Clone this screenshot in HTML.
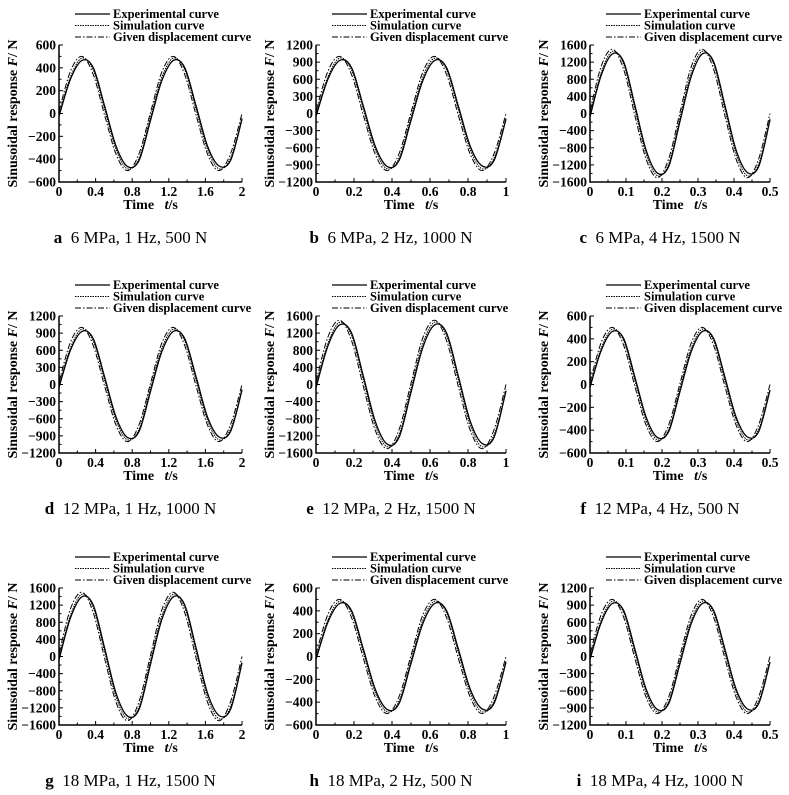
<!DOCTYPE html>
<html><head><meta charset="utf-8">
<style>
html,body{margin:0;padding:0;background:#fff;}
svg{display:block;font-family:"Liberation Serif",serif;}
.tk{font-size:13.5px;font-weight:bold;}
.yt{font-size:14px;font-weight:bold;}
.lg{font-size:12.5px;font-weight:bold;}
</style></head>
<body>
<svg id="fig" width="789" height="795" viewBox="0 0 789 795"></svg>
<script>
// Panel metadata
const panelLetters = ["a","b","c","d","e","f","g","h","i"];
const panelCaptions = ["6 MPa, 1 Hz, 500 N","6 MPa, 2 Hz, 1000 N","6 MPa, 4 Hz, 1500 N","12 MPa, 1 Hz, 1000 N","12 MPa, 2 Hz, 1500 N","12 MPa, 4 Hz, 500 N","18 MPa, 1 Hz, 1500 N","18 MPa, 2 Hz, 500 N","18 MPa, 4 Hz, 1000 N"];
const panelFreq = [1,2,4,1,2,4,1,2,4];
const panelAmp = [500,1000,1500,1000,1500,500,1500,500,1000];
const panelYMax = [600,1200,1600,1200,1600,600,1600,600,1200];
const panelYStep = [200,300,400,300,400,200,400,200,300];
const panelXTicks = [
 ["0","0.4","0.8","1.2","1.6","2"],["0","0.2","0.4","0.6","0.8","1"],["0","0.1","0.2","0.3","0.4","0.5"],
 ["0","0.4","0.8","1.2","1.6","2"],["0","0.2","0.4","0.6","0.8","1"],["0","0.1","0.2","0.3","0.4","0.5"],
 ["0","0.4","0.8","1.2","1.6","2"],["0","0.2","0.4","0.6","0.8","1"],["0","0.1","0.2","0.3","0.4","0.5"]];
// Series shapes (fraction of amplitude) sampled every 1/8 period over two periods
const expShape = [-0.05,0.6,0.93,0.8,0.12,-0.58,-0.93,-0.82,-0.12,0.58,0.93,0.8,0.12,-0.58,-0.92,-0.82,-0.1];
const simShape = [-0.02,0.64,0.97,0.76,0.06,-0.64,-0.97,-0.78,-0.06,0.64,0.97,0.76,0.06,-0.64,-0.97,-0.78,-0.08];
const givenShape = [0.04,0.74,1.0,0.68,-0.04,-0.72,-1.0,-0.7,0.02,0.73,1.0,0.68,-0.04,-0.72,-1.0,-0.7,0.0];

// layout
const colL=[59,316,590], colW=[183,190,180];
const rowT=[45,316,588], rowH=137;
const NS="http://www.w3.org/2000/svg";
const svg=document.getElementById('fig');
function mk(tag,attrs,parent){const e=document.createElementNS(NS,tag);for(const k in attrs)e.setAttribute(k,attrs[k]);(parent||svg).appendChild(e);return e;}
function smooth(pts){let d=`M${pts[0][0]},${pts[0][1]}`;for(let i=0;i<pts.length-1;i++){const p0=pts[Math.max(0,i-1)],p1=pts[i],p2=pts[i+1],p3=pts[Math.min(pts.length-1,i+2)];const c1=[p1[0]+(p2[0]-p0[0])/6,p1[1]+(p2[1]-p0[1])/6],c2=[p2[0]-(p3[0]-p1[0])/6,p2[1]-(p3[1]-p1[1])/6];d+=` C${c1[0].toFixed(1)},${c1[1].toFixed(1)} ${c2[0].toFixed(1)},${c2[1].toFixed(1)} ${p2[0].toFixed(1)},${p2[1].toFixed(1)}`;}return d;}

for(let p=0;p<9;p++){
 const r=Math.floor(p/3),c=p%3;
 const L=colL[c],W=colW[c],T=rowT[r],H=rowH,B=T+H;
 const g=mk('g',{});
 
 
 const ymax=panelYMax[p],tEnd=2/panelFreq[p];
 const xs=t=>L+t/tEnd*W, ys=v=>T+(ymax-v)/(2*ymax)*H;
 // legend
 const leg=[["Experimental curve","none"],["Simulation curve","1.5,1"],["Given displacement curve","6,2,1.5,2"]];
 leg.forEach((l,i)=>{const y=T-31+i*11.5;
  const ln=mk('line',{x1:L+16,x2:L+51,y1:y,y2:y,stroke:'#000','stroke-width':i==0?1.3:1,'stroke-dasharray':l[1]},g);
  
  
  const tx=mk('text',{x:L+54,y:y+4,class:'lg'},g);tx.textContent=l[0];
  
  
 });
 // series
 const series=[[expShape,'none',1.3,'experimental-curve'],[simShape,'1.5,1',1,'simulation-curve'],[givenShape,'6,2,1.5,2',1,'given-displacement-curve']];
 series.forEach(s=>{const pts=s[0].map((v,i)=>[xs(i/16*tEnd),ys(v*panelAmp[p])]);
  const pa=mk('path',{d:smooth(pts),fill:'none',stroke:'#000','stroke-width':s[2],'stroke-dasharray':s[1]},g);
  
  
 });
 // axes
 const ax=mk('path',{d:`M${L},${T} V${B} H${L+W}`,fill:'none',stroke:'#000','stroke-width':1.5},g);
 
 
 const n=Math.round(2*ymax/panelYStep[p]);
 for(let i=0;i<=n;i++){const v=-ymax+i*panelYStep[p],y=ys(v);
  mk('line',{x1:L,x2:L+4,y1:y,y2:y,stroke:'#000'},g);
  if(i<n)mk('line',{x1:L,x2:L+2.5,y1:ys(v+panelYStep[p]/2),y2:ys(v+panelYStep[p]/2),stroke:'#000'},g);
  const t=mk('text',{x:L-3,y:y+4.5,'text-anchor':'end',class:'tk'},g);t.textContent=(v<0?'\u2212':'')+Math.abs(v);
  
  
 }
 const xt=panelXTicks[p];
 xt.forEach((lab,i)=>{const x=L+i/(xt.length-1)*W;
  mk('line',{x1:x,x2:x,y1:B,y2:B-4,stroke:'#000'},g);
  if(i<xt.length-1)mk('line',{x1:x+W/(xt.length-1)/2,x2:x+W/(xt.length-1)/2,y1:B,y2:B-2.5,stroke:'#000'},g);
  const t=mk('text',{x:x,y:B+14,'text-anchor':'middle',class:'tk'},g);t.textContent=lab;
  
  
 });
 const xtl=mk('text',{x:L+W/2,y:B+27,'text-anchor':'middle',class:'yt'},g);
 xtl.innerHTML='Time&#160;&#160; <tspan font-style="italic">t</tspan>/s';
 
 
 const ytl=mk('text',{x:0,y:0,'text-anchor':'middle',class:'yt',transform:`translate(${L-42},${T+H/2}) rotate(-90)`},g);
 ytl.innerHTML='Sinusoidal response <tspan font-style="italic">F</tspan>/ N';
 
 
 const cap=mk('text',{x:L+W/2-20,y:B+61,'text-anchor':'middle','font-size':'17px'},g);
 cap.innerHTML=`<tspan font-weight="bold">${panelLetters[p]}</tspan>&#160; ${panelCaptions[p]}`;
 
 
}
</script>
</body></html>
